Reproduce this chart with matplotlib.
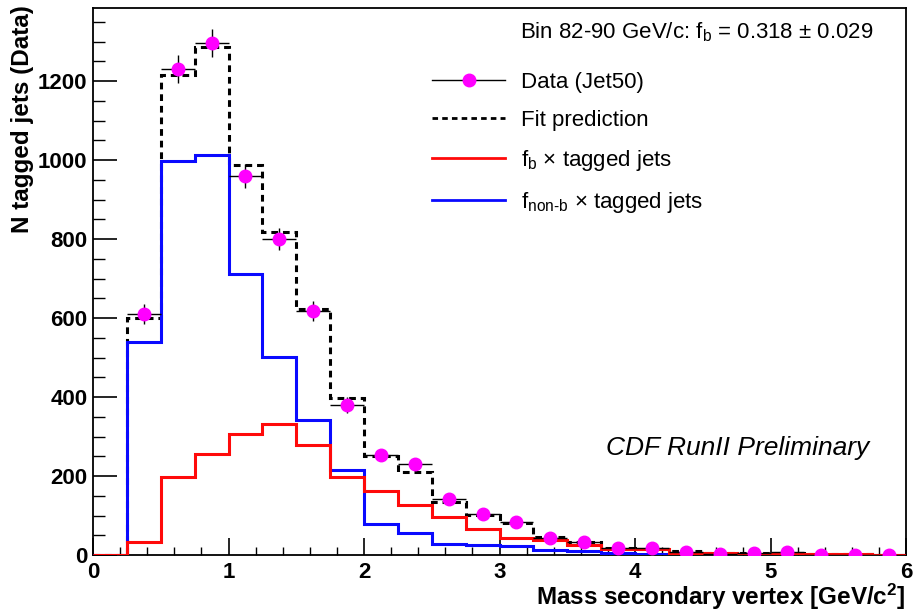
import numpy as np
import matplotlib.pyplot as plt
from matplotlib.lines import Line2D
from matplotlib.ticker import MultipleLocator

plt.rcParams['font.family'] = ['Liberation Sans', 'DejaVu Sans']
plt.rcParams['mathtext.fontset'] = 'custom'
plt.rcParams['mathtext.rm'] = 'Liberation Sans'
plt.rcParams['mathtext.it'] = 'Liberation Sans:italic'
plt.rcParams['mathtext.bf'] = 'Liberation Sans:bold'

# binning: 0..6 GeV/c^2 in steps of 0.25
edges = np.arange(0, 6.0001, 0.25)

fit_pred = [0, 600, 1215, 1287, 987, 818, 623, 397, 250, 210, 134, 101,
            81, 46, 33, 18, 15, 10, 6, 5, 5, 3, 2, 1]
non_b = [0, 540, 997, 1014, 711, 501, 342, 215, 78, 56, 28, 26,
         23, 13, 9, 5, 2, 2, 1, 1, 1, 1, 0, 0]
b_jets = [0, 33, 197, 256, 306, 332, 278, 198, 163, 127, 97, 66,
          43, 38, 25, 15, 15, 5, 4, 3, 3, 2, 2, 1]
data = [610, 1230, 1296, 960, 800, 618, 380, 253, 230, 142, 104, 84,
        43, 33, 18, 18, 8, 3, 5, 8, 1, 1, 1]

centers = 0.5 * (edges[1:] + edges[:-1])[1:]
data = np.array(data, dtype=float)

fig = plt.figure(figsize=(9.15, 6.13), dpi=100)
ax = fig.add_axes([93/915, 58/613, 813/915, 547/613])

ax.stairs(fit_pred, edges, color='black', lw=2.2, ls=(0, (2.2, 1.6)), zorder=2)
ax.stairs(non_b, edges, color='#0a0aff', lw=2.2, zorder=3)
ax.stairs(b_jets, edges, color='#ff0a0a', lw=2.2, zorder=4)
ax.errorbar(centers, data, yerr=np.sqrt(data), xerr=0.125, fmt='o',
            color='black', ecolor='black', elinewidth=1.0, capsize=0,
            mfc='#ff00ff', mec='#ff00ff', ms=9, zorder=5)

ax.set_xlim(0, 6)
ax.set_ylim(0, 1385)
ax.xaxis.set_major_locator(MultipleLocator(1))
ax.xaxis.set_minor_locator(MultipleLocator(0.2))
ax.yaxis.set_major_locator(MultipleLocator(200))
ax.yaxis.set_minor_locator(MultipleLocator(50))
ax.tick_params(which='both', direction='in', top=False, right=False)
ax.tick_params(axis='y', which='major', length=17, width=1.2)
ax.tick_params(axis='y', which='minor', length=8.5, width=1.0)
ax.tick_params(axis='x', which='major', length=12, width=1.2)
ax.tick_params(axis='x', which='minor', length=6, width=1.0)
ax.tick_params(axis='y', labelsize=16, pad=4)
ax.tick_params(axis='x', labelsize=16, pad=5)
for lab in ax.get_xticklabels() + ax.get_yticklabels():
    lab.set_fontweight('bold')
for s in ax.spines.values():
    s.set_linewidth(1.3)

ax.set_xlabel(r'Mass secondary vertex [GeV/c$^{\mathbf{2}}$]', fontsize=17.5,
              fontweight='bold', ha='right', va='top')
ax.xaxis.set_label_coords(1.0, -0.049)
ax.set_ylabel('N tagged jets (Data)', fontsize=17.5, fontweight='bold',
              ha='right', va='center')
ax.yaxis.set_label_coords(-0.087, 1.006)

ax.text(0.525, 0.955, r'Bin 82-90 GeV/c: f$_{\rm b}$ = 0.318 $\pm$ 0.029',
        transform=ax.transAxes, fontsize=16, va='center', ha='left')

handles = [
    Line2D([], [], color='black', lw=1, marker='o', mfc='#ff00ff',
           mec='#ff00ff', ms=9),
    Line2D([], [], color='black', lw=2, ls=(0, (2, 1.5))),
    Line2D([], [], color='#ff0a0a', lw=2),
    Line2D([], [], color='#0a0aff', lw=2),
]
labels = ['Data (Jet50)', 'Fit prediction',
          r'f$_{\rm b}$ $\times$ tagged jets',
          r'f$_{\rm non\text{-}b}$ $\times$ tagged jets']
ax.legend(handles, labels, loc='upper left', bbox_to_anchor=(0.417, 0.883),
          frameon=False, fontsize=16, handlelength=3.3, handletextpad=0.7,
          labelspacing=0.76, borderpad=0, borderaxespad=0)

ax.text(0.955, 0.195, 'CDF RunII Preliminary', transform=ax.transAxes,
        fontsize=19, style='italic', ha='right', va='center')

fig.savefig('out.png', dpi=100)
